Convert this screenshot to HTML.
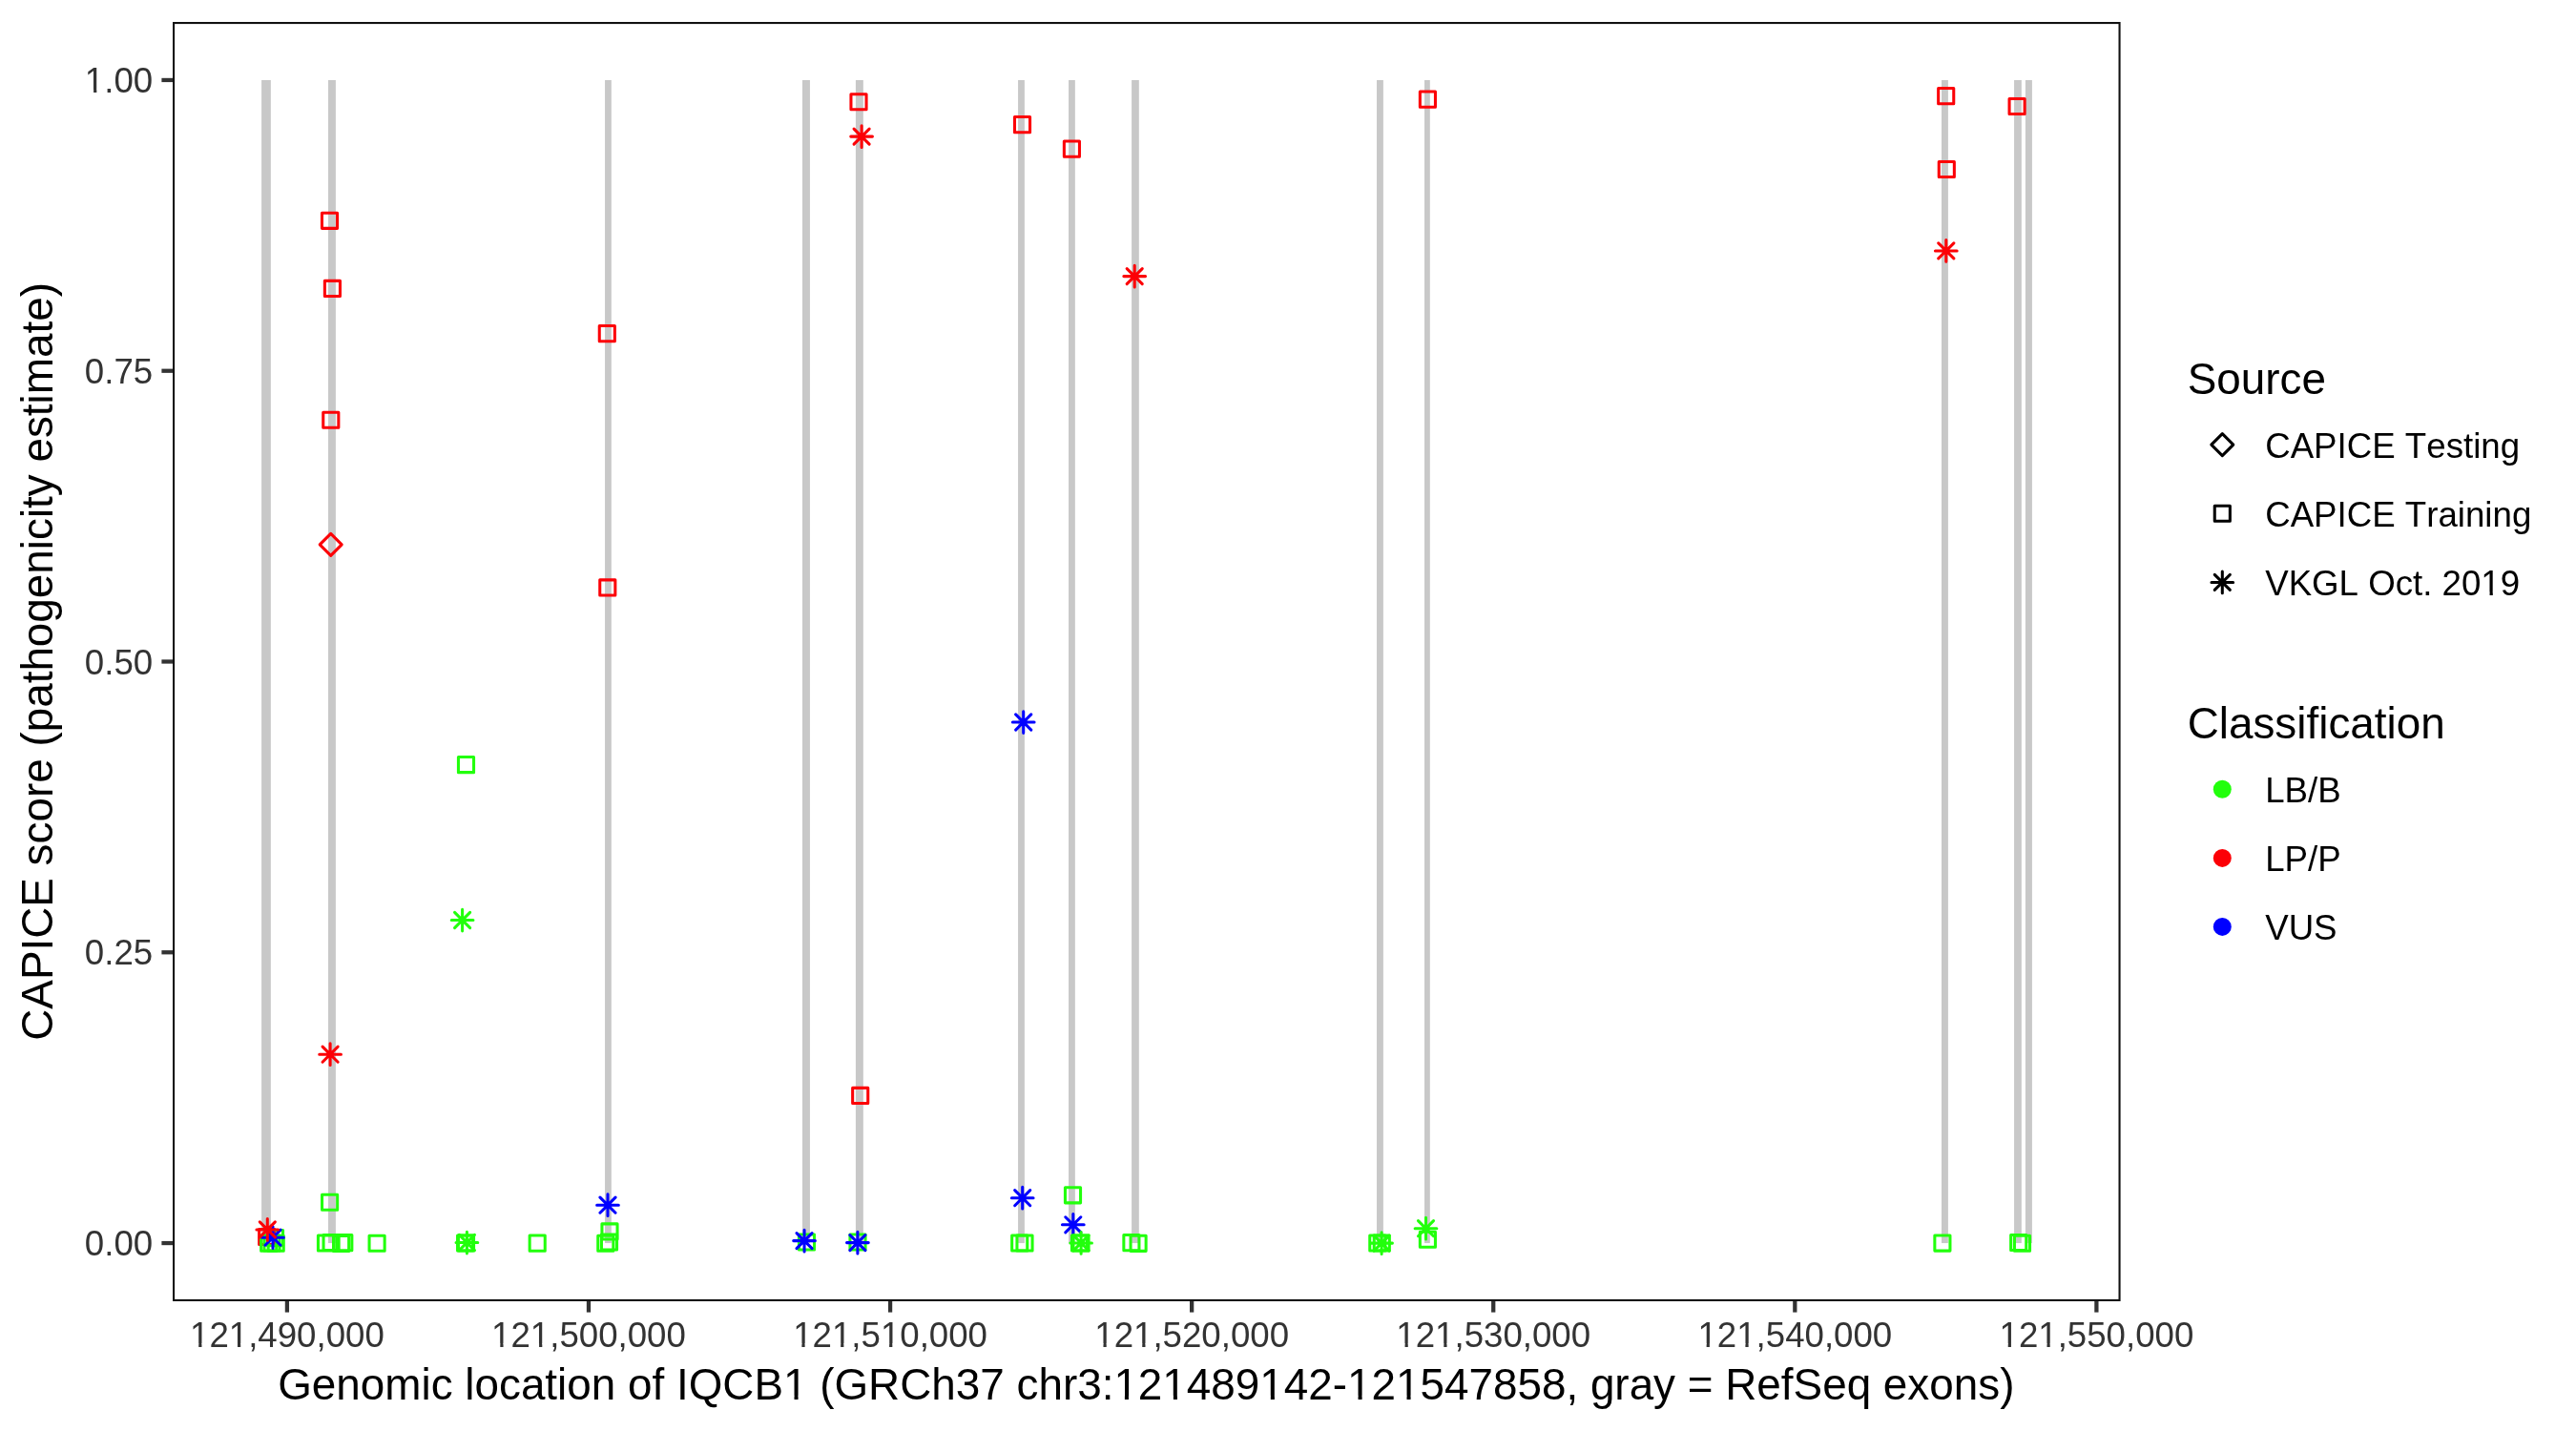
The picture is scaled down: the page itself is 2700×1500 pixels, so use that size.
<!DOCTYPE html><html><head><meta charset="utf-8"><style>html,body{margin:0;padding:0;background:#fff;width:2700px;height:1500px;overflow:hidden}svg{display:block;will-change:transform}text{font-family:"Liberation Sans",sans-serif;font-kerning:none}</style></head><body><svg width="2700" height="1500" viewBox="0 0 2700 1500">
<rect width="2700" height="1500" fill="#FFFFFF"/>
<rect x="274.10" y="83.95" width="9.75" height="1219.10" fill="#C8C8C8"/>
<rect x="344.00" y="83.95" width="7.90" height="1219.10" fill="#C8C8C8"/>
<rect x="634.05" y="83.95" width="6.75" height="1219.10" fill="#C8C8C8"/>
<rect x="841.00" y="83.95" width="7.94" height="1219.10" fill="#C8C8C8"/>
<rect x="896.90" y="83.95" width="7.94" height="1219.10" fill="#C8C8C8"/>
<rect x="1067.07" y="83.95" width="6.79" height="1219.10" fill="#C8C8C8"/>
<rect x="1120.05" y="83.95" width="6.80" height="1219.10" fill="#C8C8C8"/>
<rect x="1186.10" y="83.95" width="7.70" height="1219.10" fill="#C8C8C8"/>
<rect x="1443.04" y="83.95" width="6.84" height="1219.10" fill="#C8C8C8"/>
<rect x="1493.04" y="83.95" width="5.76" height="1219.10" fill="#C8C8C8"/>
<rect x="2035.00" y="83.95" width="6.90" height="1219.10" fill="#C8C8C8"/>
<rect x="2111.06" y="83.95" width="7.77" height="1219.10" fill="#C8C8C8"/>
<rect x="2122.90" y="83.95" width="7.00" height="1219.10" fill="#C8C8C8"/>
<rect x="271.65" y="1288.45" width="16.10" height="16.10" fill="none" stroke="#FC0006" stroke-width="3.05" stroke-linejoin="round"/>
<rect x="280.45" y="1289.55" width="16.10" height="16.10" fill="none" stroke="#22FF0C" stroke-width="3.05" stroke-linejoin="round"/>
<rect x="273.65" y="1295.15" width="16.10" height="16.10" fill="none" stroke="#22FF0C" stroke-width="3.05" stroke-linejoin="round"/>
<rect x="276.95" y="1294.95" width="16.10" height="16.10" fill="none" stroke="#22FF0C" stroke-width="3.05" stroke-linejoin="round"/>
<rect x="281.15" y="1295.15" width="16.10" height="16.10" fill="none" stroke="#22FF0C" stroke-width="3.05" stroke-linejoin="round"/>
<path d="M274.65 1297.20H297.35M286.00 1285.85V1308.55M277.95 1289.15L294.05 1305.25M277.95 1305.25L294.05 1289.15" fill="none" stroke="#0000FF" stroke-width="3.05" stroke-linecap="round"/>
<path d="M268.95 1288.90H291.65M280.30 1277.55V1300.25M272.25 1280.85L288.35 1296.95M272.25 1296.95L288.35 1280.85" fill="none" stroke="#FC0006" stroke-width="3.05" stroke-linecap="round"/>
<rect x="337.45" y="223.25" width="16.10" height="16.10" fill="none" stroke="#FC0006" stroke-width="3.05" stroke-linejoin="round"/>
<rect x="340.35" y="294.35" width="16.10" height="16.10" fill="none" stroke="#FC0006" stroke-width="3.05" stroke-linejoin="round"/>
<rect x="338.75" y="432.15" width="16.10" height="16.10" fill="none" stroke="#FC0006" stroke-width="3.05" stroke-linejoin="round"/>
<path d="M346.70 559.30L358.20 570.80L346.70 582.30L335.20 570.80Z" fill="none" stroke="#FC0006" stroke-width="3.05" stroke-linejoin="round"/>
<path d="M334.75 1105.20H357.45M346.10 1093.85V1116.55M338.05 1097.15L354.15 1113.25M338.05 1113.25L354.15 1097.15" fill="none" stroke="#FC0006" stroke-width="3.05" stroke-linecap="round"/>
<rect x="337.55" y="1252.15" width="16.10" height="16.10" fill="none" stroke="#22FF0C" stroke-width="3.05" stroke-linejoin="round"/>
<rect x="333.45" y="1294.95" width="16.10" height="16.10" fill="none" stroke="#22FF0C" stroke-width="3.05" stroke-linejoin="round"/>
<rect x="339.05" y="1294.45" width="16.10" height="16.10" fill="none" stroke="#22FF0C" stroke-width="3.05" stroke-linejoin="round"/>
<rect x="349.55" y="1295.45" width="16.10" height="16.10" fill="none" stroke="#22FF0C" stroke-width="3.05" stroke-linejoin="round"/>
<rect x="352.75" y="1294.55" width="16.10" height="16.10" fill="none" stroke="#22FF0C" stroke-width="3.05" stroke-linejoin="round"/>
<rect x="387.05" y="1295.15" width="16.10" height="16.10" fill="none" stroke="#22FF0C" stroke-width="3.05" stroke-linejoin="round"/>
<rect x="480.45" y="793.55" width="16.10" height="16.10" fill="none" stroke="#22FF0C" stroke-width="3.05" stroke-linejoin="round"/>
<path d="M473.25 964.50H495.95M484.60 953.15V975.85M476.55 956.45L492.65 972.55M476.55 972.55L492.65 956.45" fill="none" stroke="#22FF0C" stroke-width="3.05" stroke-linecap="round"/>
<rect x="479.55" y="1294.95" width="16.10" height="16.10" fill="none" stroke="#22FF0C" stroke-width="3.05" stroke-linejoin="round"/>
<rect x="480.45" y="1294.95" width="16.10" height="16.10" fill="none" stroke="#22FF0C" stroke-width="3.05" stroke-linejoin="round"/>
<path d="M478.05 1302.50H500.75M489.40 1291.15V1313.85M481.35 1294.45L497.45 1310.55M481.35 1310.55L497.45 1294.45" fill="none" stroke="#22FF0C" stroke-width="3.05" stroke-linecap="round"/>
<rect x="555.15" y="1295.05" width="16.10" height="16.10" fill="none" stroke="#22FF0C" stroke-width="3.05" stroke-linejoin="round"/>
<rect x="628.25" y="341.55" width="16.10" height="16.10" fill="none" stroke="#FC0006" stroke-width="3.05" stroke-linejoin="round"/>
<rect x="628.75" y="607.85" width="16.10" height="16.10" fill="none" stroke="#FC0006" stroke-width="3.05" stroke-linejoin="round"/>
<path d="M625.65 1263.20H648.35M637.00 1251.85V1274.55M628.95 1255.15L645.05 1271.25M628.95 1271.25L645.05 1255.15" fill="none" stroke="#0000FF" stroke-width="3.05" stroke-linecap="round"/>
<rect x="630.95" y="1282.85" width="16.10" height="16.10" fill="none" stroke="#22FF0C" stroke-width="3.05" stroke-linejoin="round"/>
<rect x="626.75" y="1295.15" width="16.10" height="16.10" fill="none" stroke="#22FF0C" stroke-width="3.05" stroke-linejoin="round"/>
<rect x="630.45" y="1293.95" width="16.10" height="16.10" fill="none" stroke="#22FF0C" stroke-width="3.05" stroke-linejoin="round"/>
<rect x="837.45" y="1293.95" width="16.10" height="16.10" fill="none" stroke="#22FF0C" stroke-width="3.05" stroke-linejoin="round"/>
<path d="M831.70 1300.60H854.40M843.05 1289.25V1311.95M835.00 1292.55L851.10 1308.65M835.00 1308.65L851.10 1292.55" fill="none" stroke="#0000FF" stroke-width="3.05" stroke-linecap="round"/>
<rect x="891.95" y="98.65" width="16.10" height="16.10" fill="none" stroke="#FC0006" stroke-width="3.05" stroke-linejoin="round"/>
<path d="M891.75 143.10H914.45M903.10 131.75V154.45M895.05 135.05L911.15 151.15M895.05 151.15L911.15 135.05" fill="none" stroke="#FC0006" stroke-width="3.05" stroke-linecap="round"/>
<rect x="893.65" y="1140.35" width="16.10" height="16.10" fill="none" stroke="#FC0006" stroke-width="3.05" stroke-linejoin="round"/>
<rect x="890.95" y="1293.95" width="16.10" height="16.10" fill="none" stroke="#22FF0C" stroke-width="3.05" stroke-linejoin="round"/>
<path d="M887.55 1302.60H910.25M898.90 1291.25V1313.95M890.85 1294.55L906.95 1310.65M890.85 1310.65L906.95 1294.55" fill="none" stroke="#0000FF" stroke-width="3.05" stroke-linecap="round"/>
<rect x="1063.45" y="122.55" width="16.10" height="16.10" fill="none" stroke="#FC0006" stroke-width="3.05" stroke-linejoin="round"/>
<path d="M1061.35 757.00H1084.05M1072.70 745.65V768.35M1064.65 748.95L1080.75 765.05M1064.65 765.05L1080.75 748.95" fill="none" stroke="#0000FF" stroke-width="3.05" stroke-linecap="round"/>
<path d="M1060.35 1255.70H1083.05M1071.70 1244.35V1267.05M1063.65 1247.65L1079.75 1263.75M1063.65 1263.75L1079.75 1247.65" fill="none" stroke="#0000FF" stroke-width="3.05" stroke-linecap="round"/>
<rect x="1060.65" y="1294.95" width="16.10" height="16.10" fill="none" stroke="#22FF0C" stroke-width="3.05" stroke-linejoin="round"/>
<rect x="1065.95" y="1294.95" width="16.10" height="16.10" fill="none" stroke="#22FF0C" stroke-width="3.05" stroke-linejoin="round"/>
<rect x="1115.35" y="148.05" width="16.10" height="16.10" fill="none" stroke="#FC0006" stroke-width="3.05" stroke-linejoin="round"/>
<rect x="1116.45" y="1244.75" width="16.10" height="16.10" fill="none" stroke="#22FF0C" stroke-width="3.05" stroke-linejoin="round"/>
<path d="M1113.45 1283.80H1136.15M1124.80 1272.45V1295.15M1116.75 1275.75L1132.85 1291.85M1116.75 1291.85L1132.85 1275.75" fill="none" stroke="#0000FF" stroke-width="3.05" stroke-linecap="round"/>
<rect x="1123.45" y="1294.95" width="16.10" height="16.10" fill="none" stroke="#22FF0C" stroke-width="3.05" stroke-linejoin="round"/>
<rect x="1124.95" y="1294.95" width="16.10" height="16.10" fill="none" stroke="#22FF0C" stroke-width="3.05" stroke-linejoin="round"/>
<path d="M1121.75 1302.90H1144.45M1133.10 1291.55V1314.25M1125.05 1294.85L1141.15 1310.95M1125.05 1310.95L1141.15 1294.85" fill="none" stroke="#22FF0C" stroke-width="3.05" stroke-linecap="round"/>
<path d="M1177.85 289.60H1200.55M1189.20 278.25V300.95M1181.15 281.55L1197.25 297.65M1181.15 297.65L1197.25 281.55" fill="none" stroke="#FC0006" stroke-width="3.05" stroke-linecap="round"/>
<rect x="1177.85" y="1294.55" width="16.10" height="16.10" fill="none" stroke="#22FF0C" stroke-width="3.05" stroke-linejoin="round"/>
<rect x="1185.05" y="1295.25" width="16.10" height="16.10" fill="none" stroke="#22FF0C" stroke-width="3.05" stroke-linejoin="round"/>
<rect x="1435.75" y="1294.95" width="16.10" height="16.10" fill="none" stroke="#22FF0C" stroke-width="3.05" stroke-linejoin="round"/>
<rect x="1440.25" y="1294.95" width="16.10" height="16.10" fill="none" stroke="#22FF0C" stroke-width="3.05" stroke-linejoin="round"/>
<path d="M1436.75 1303.10H1459.45M1448.10 1291.75V1314.45M1440.05 1295.05L1456.15 1311.15M1440.05 1311.15L1456.15 1295.05" fill="none" stroke="#22FF0C" stroke-width="3.05" stroke-linecap="round"/>
<rect x="1488.35" y="96.05" width="16.10" height="16.10" fill="none" stroke="#FC0006" stroke-width="3.05" stroke-linejoin="round"/>
<path d="M1483.15 1287.70H1505.85M1494.50 1276.35V1299.05M1486.45 1279.65L1502.55 1295.75M1486.45 1295.75L1502.55 1279.65" fill="none" stroke="#22FF0C" stroke-width="3.05" stroke-linecap="round"/>
<rect x="1488.35" y="1291.15" width="16.10" height="16.10" fill="none" stroke="#22FF0C" stroke-width="3.05" stroke-linejoin="round"/>
<rect x="2031.65" y="92.55" width="16.10" height="16.10" fill="none" stroke="#FC0006" stroke-width="3.05" stroke-linejoin="round"/>
<rect x="2032.25" y="169.45" width="16.10" height="16.10" fill="none" stroke="#FC0006" stroke-width="3.05" stroke-linejoin="round"/>
<path d="M2028.45 262.90H2051.15M2039.80 251.55V274.25M2031.75 254.85L2047.85 270.95M2031.75 270.95L2047.85 254.85" fill="none" stroke="#FC0006" stroke-width="3.05" stroke-linecap="round"/>
<rect x="2027.85" y="1295.01" width="16.10" height="16.10" fill="none" stroke="#22FF0C" stroke-width="3.05" stroke-linejoin="round"/>
<rect x="2106.05" y="103.45" width="16.10" height="16.10" fill="none" stroke="#FC0006" stroke-width="3.05" stroke-linejoin="round"/>
<rect x="2107.65" y="1294.45" width="16.10" height="16.10" fill="none" stroke="#22FF0C" stroke-width="3.05" stroke-linejoin="round"/>
<rect x="2111.45" y="1295.15" width="16.10" height="16.10" fill="none" stroke="#22FF0C" stroke-width="3.05" stroke-linejoin="round"/>
<rect x="182.05" y="24.05" width="2039.50" height="1338.90" fill="none" stroke="#111111" stroke-width="2.1"/>
<line x1="169.40" y1="83.95" x2="181.00" y2="83.95" stroke="#333333" stroke-width="4.27"/>
<line x1="169.40" y1="388.73" x2="181.00" y2="388.73" stroke="#333333" stroke-width="4.27"/>
<line x1="169.40" y1="693.50" x2="181.00" y2="693.50" stroke="#333333" stroke-width="4.27"/>
<line x1="169.40" y1="998.27" x2="181.00" y2="998.27" stroke="#333333" stroke-width="4.27"/>
<line x1="169.40" y1="1303.05" x2="181.00" y2="1303.05" stroke="#333333" stroke-width="4.27"/>
<line x1="300.90" y1="1364.00" x2="300.90" y2="1375.60" stroke="#333333" stroke-width="4.27"/>
<line x1="616.98" y1="1364.00" x2="616.98" y2="1375.60" stroke="#333333" stroke-width="4.27"/>
<line x1="933.07" y1="1364.00" x2="933.07" y2="1375.60" stroke="#333333" stroke-width="4.27"/>
<line x1="1249.15" y1="1364.00" x2="1249.15" y2="1375.60" stroke="#333333" stroke-width="4.27"/>
<line x1="1565.23" y1="1364.00" x2="1565.23" y2="1375.60" stroke="#333333" stroke-width="4.27"/>
<line x1="1881.32" y1="1364.00" x2="1881.32" y2="1375.60" stroke="#333333" stroke-width="4.27"/>
<line x1="2197.40" y1="1364.00" x2="2197.40" y2="1375.60" stroke="#333333" stroke-width="4.27"/>
<text transform="translate(160.20 97.15) scale(1 1.02)" x="0" y="0" font-family="Liberation Sans, sans-serif" font-size="36.67" fill="#333333" text-anchor="end">1.00</text>
<text transform="translate(160.20 401.93) scale(1 1.02)" x="0" y="0" font-family="Liberation Sans, sans-serif" font-size="36.67" fill="#333333" text-anchor="end">0.75</text>
<text transform="translate(160.20 706.70) scale(1 1.02)" x="0" y="0" font-family="Liberation Sans, sans-serif" font-size="36.67" fill="#333333" text-anchor="end">0.50</text>
<text transform="translate(160.20 1011.48) scale(1 1.02)" x="0" y="0" font-family="Liberation Sans, sans-serif" font-size="36.67" fill="#333333" text-anchor="end">0.25</text>
<text transform="translate(160.20 1316.25) scale(1 1.02)" x="0" y="0" font-family="Liberation Sans, sans-serif" font-size="36.67" fill="#333333" text-anchor="end">0.00</text>
<text transform="translate(300.90 1411.7) scale(1 1.02)" x="0" y="0" font-family="Liberation Sans, sans-serif" font-size="36.67" fill="#333333" text-anchor="middle">121,490,000</text>
<text transform="translate(616.98 1411.7) scale(1 1.02)" x="0" y="0" font-family="Liberation Sans, sans-serif" font-size="36.67" fill="#333333" text-anchor="middle">121,500,000</text>
<text transform="translate(933.07 1411.7) scale(1 1.02)" x="0" y="0" font-family="Liberation Sans, sans-serif" font-size="36.67" fill="#333333" text-anchor="middle">121,510,000</text>
<text transform="translate(1249.15 1411.7) scale(1 1.02)" x="0" y="0" font-family="Liberation Sans, sans-serif" font-size="36.67" fill="#333333" text-anchor="middle">121,520,000</text>
<text transform="translate(1565.23 1411.7) scale(1 1.02)" x="0" y="0" font-family="Liberation Sans, sans-serif" font-size="36.67" fill="#333333" text-anchor="middle">121,530,000</text>
<text transform="translate(1881.32 1411.7) scale(1 1.02)" x="0" y="0" font-family="Liberation Sans, sans-serif" font-size="36.67" fill="#333333" text-anchor="middle">121,540,000</text>
<text transform="translate(2197.40 1411.7) scale(1 1.02)" x="0" y="0" font-family="Liberation Sans, sans-serif" font-size="36.67" fill="#333333" text-anchor="middle">121,550,000</text>
<text x="1201.3" y="1467.0" font-family="Liberation Sans, sans-serif" font-size="45.83" fill="#000000" text-anchor="middle">Genomic location of IQCB1 (GRCh37 chr3:121489142-121547858, gray = RefSeq exons)</text>
<text transform="translate(55.0 693.4) rotate(-90)" x="0" y="0" font-family="Liberation Sans, sans-serif" font-size="45.83" fill="#000000" text-anchor="middle">CAPICE score (pathogenicity estimate)</text>
<text x="2292.7" y="413.2" font-family="Liberation Sans, sans-serif" font-size="45.83" fill="#000000">Source</text>
<path d="M2329.30 454.70L2340.80 466.20L2329.30 477.70L2317.80 466.20Z" fill="none" stroke="#000000" stroke-width="3.05" stroke-linejoin="round"/>
<rect x="2321.25" y="530.15" width="16.10" height="16.10" fill="none" stroke="#000000" stroke-width="3.05" stroke-linejoin="round"/>
<path d="M2317.95 610.40H2340.65M2329.30 599.05V621.75M2321.25 602.35L2337.35 618.45M2321.25 618.45L2337.35 602.35" fill="none" stroke="#000000" stroke-width="3.05" stroke-linecap="round"/>
<text x="2374.2" y="479.7" font-family="Liberation Sans, sans-serif" font-size="36.67" fill="#000000">CAPICE Testing</text>
<text x="2374.2" y="552.1" font-family="Liberation Sans, sans-serif" font-size="36.67" fill="#000000">CAPICE Training</text>
<text x="2374.2" y="624.1" font-family="Liberation Sans, sans-serif" font-size="36.67" fill="#000000">VKGL Oct. 2019</text>
<text x="2292.7" y="774.4" font-family="Liberation Sans, sans-serif" font-size="45.83" fill="#000000">Classification</text>
<circle cx="2329.3" cy="827.2" r="9.5" fill="#22FF0C"/>
<text transform="translate(2374.2 840.9) scale(1 1.02)" x="0" y="0" font-family="Liberation Sans, sans-serif" font-size="36.67" fill="#000000">LB/B</text>
<circle cx="2329.3" cy="899.4" r="9.5" fill="#FC0006"/>
<text transform="translate(2374.2 912.7) scale(1 1.02)" x="0" y="0" font-family="Liberation Sans, sans-serif" font-size="36.67" fill="#000000">LP/P</text>
<circle cx="2329.3" cy="971.4" r="9.5" fill="#0000FF"/>
<text transform="translate(2374.2 984.5) scale(1 1.02)" x="0" y="0" font-family="Liberation Sans, sans-serif" font-size="36.67" fill="#000000">VUS</text>
<rect x="90.48" y="93.66" width="7.61" height="4.19" fill="#FFFFFF"/>
<rect x="101.33" y="93.66" width="7.59" height="4.19" fill="#FFFFFF"/>
<rect x="200.61" y="1408.21" width="7.61" height="4.19" fill="#FFFFFF"/>
<rect x="211.46" y="1408.21" width="7.59" height="4.19" fill="#FFFFFF"/>
<rect x="241.37" y="1408.21" width="7.61" height="4.19" fill="#FFFFFF"/>
<rect x="252.22" y="1408.21" width="7.59" height="4.19" fill="#FFFFFF"/>
<rect x="516.69" y="1408.21" width="7.61" height="4.19" fill="#FFFFFF"/>
<rect x="527.54" y="1408.21" width="7.59" height="4.19" fill="#FFFFFF"/>
<rect x="557.45" y="1408.21" width="7.61" height="4.19" fill="#FFFFFF"/>
<rect x="568.30" y="1408.21" width="7.59" height="4.19" fill="#FFFFFF"/>
<rect x="832.78" y="1408.21" width="7.61" height="4.19" fill="#FFFFFF"/>
<rect x="843.63" y="1408.21" width="7.59" height="4.19" fill="#FFFFFF"/>
<rect x="873.54" y="1408.21" width="7.61" height="4.19" fill="#FFFFFF"/>
<rect x="884.39" y="1408.21" width="7.59" height="4.19" fill="#FFFFFF"/>
<rect x="924.48" y="1408.21" width="7.61" height="4.19" fill="#FFFFFF"/>
<rect x="935.33" y="1408.21" width="7.59" height="4.19" fill="#FFFFFF"/>
<rect x="1148.86" y="1408.21" width="7.61" height="4.19" fill="#FFFFFF"/>
<rect x="1159.71" y="1408.21" width="7.59" height="4.19" fill="#FFFFFF"/>
<rect x="1189.62" y="1408.21" width="7.61" height="4.19" fill="#FFFFFF"/>
<rect x="1200.47" y="1408.21" width="7.59" height="4.19" fill="#FFFFFF"/>
<rect x="1464.94" y="1408.21" width="7.61" height="4.19" fill="#FFFFFF"/>
<rect x="1475.79" y="1408.21" width="7.59" height="4.19" fill="#FFFFFF"/>
<rect x="1505.70" y="1408.21" width="7.61" height="4.19" fill="#FFFFFF"/>
<rect x="1516.55" y="1408.21" width="7.59" height="4.19" fill="#FFFFFF"/>
<rect x="1781.03" y="1408.21" width="7.61" height="4.19" fill="#FFFFFF"/>
<rect x="1791.88" y="1408.21" width="7.59" height="4.19" fill="#FFFFFF"/>
<rect x="1821.79" y="1408.21" width="7.61" height="4.19" fill="#FFFFFF"/>
<rect x="1832.64" y="1408.21" width="7.59" height="4.19" fill="#FFFFFF"/>
<rect x="2097.11" y="1408.21" width="7.61" height="4.19" fill="#FFFFFF"/>
<rect x="2107.96" y="1408.21" width="7.59" height="4.19" fill="#FFFFFF"/>
<rect x="2137.87" y="1408.21" width="7.61" height="4.19" fill="#FFFFFF"/>
<rect x="2148.72" y="1408.21" width="7.59" height="4.19" fill="#FFFFFF"/>
<rect x="823.00" y="1462.88" width="9.51" height="4.82" fill="#FFFFFF"/>
<rect x="836.56" y="1462.88" width="9.49" height="4.82" fill="#FFFFFF"/>
<rect x="1169.39" y="1462.88" width="9.51" height="4.82" fill="#FFFFFF"/>
<rect x="1182.95" y="1462.88" width="9.49" height="4.82" fill="#FFFFFF"/>
<rect x="1220.36" y="1462.88" width="9.51" height="4.82" fill="#FFFFFF"/>
<rect x="1233.92" y="1462.88" width="9.49" height="4.82" fill="#FFFFFF"/>
<rect x="1322.31" y="1462.88" width="9.51" height="4.82" fill="#FFFFFF"/>
<rect x="1335.88" y="1462.88" width="9.49" height="4.82" fill="#FFFFFF"/>
<rect x="1414.03" y="1462.88" width="9.51" height="4.82" fill="#FFFFFF"/>
<rect x="1427.59" y="1462.88" width="9.49" height="4.82" fill="#FFFFFF"/>
<rect x="1465.02" y="1462.88" width="9.51" height="4.82" fill="#FFFFFF"/>
<rect x="1478.58" y="1462.88" width="9.49" height="4.82" fill="#FFFFFF"/>
<rect x="2601.95" y="620.66" width="7.61" height="4.14" fill="#FFFFFF"/>
<rect x="2612.80" y="620.66" width="7.59" height="4.14" fill="#FFFFFF"/>
</svg></body></html>
